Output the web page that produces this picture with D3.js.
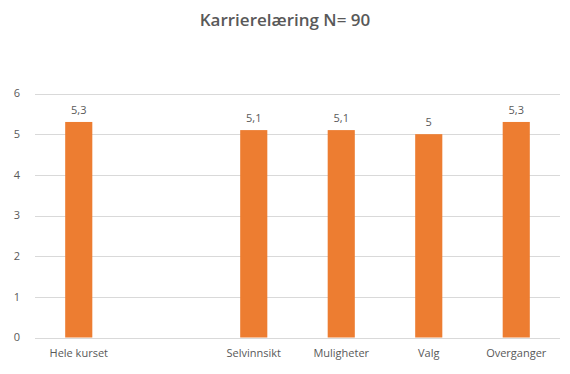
<!DOCTYPE html>
<html>
<head>
<meta charset="utf-8">
<script src="https://cdn.jsdelivr.net/npm/d3@7"></script>
<style>
  body { margin: 0; background: #fff; }
  text { font-family: "Open Sans", "Noto Sans", sans-serif; fill: #595959; }
</style>
</head>
<body>
<div class="chart-container"></div>
<script>
// Data
const categories = ["Hele kurset", "", "Selvinnsikt", "Muligheter", "Valg", "Overganger"];
const values = [5.3, null, 5.1, 5.1, 5.0, 5.3];
const yTicks = [0, 1, 2, 3, 4, 5, 6];

const width = 570, height = 374;
const margin = { top: 93.5, bottom: 36.5, left: 35, right: 10 };

const svg = d3.select(".chart-container").append("svg")
  .attr("width", width).attr("height", height);

// Scales
const x = d3.scaleBand()
  .domain(d3.range(categories.length))
  .range([margin.left, width - margin.right])
  .padding(0);
const y = d3.scaleLinear()
  .domain([0, 6])
  .range([height - margin.bottom, margin.top]);

const barWidth = x.bandwidth() * 0.31;
const fmt = v => String(v).replace(".", ",");

// Title
svg.append("text")
  .attr("x", width / 2)
  .attr("y", 26)
  .attr("text-anchor", "middle")
  .style("font-size", "17px")
  .style("font-weight", "600")
  .text("Karrierelæring N= 90");

// Gridlines
svg.append("g")
  .selectAll("line")
  .data(yTicks)
  .enter().append("line")
    .attr("x1", margin.left)
    .attr("x2", width - margin.right)
    .attr("y1", d => Math.round(y(d)) + 0.5)
    .attr("y2", d => Math.round(y(d)) + 0.5)
    .attr("stroke", "#d9d9d9");

// Y-axis text
svg.append("g")
  .selectAll("text")
  .data(yTicks)
  .enter().append("text")
    .attr("x", 20)
    .attr("y", d => y(d))
    .attr("dy", "0.35em")
    .attr("text-anchor", "end")
    .style("font-size", "11px")
    .text(d => d);

// Bars
const data = values.map((v, i) => ({ i: i, v: v })).filter(d => d.v !== null);
svg.append("g")
  .selectAll("rect")
  .data(data)
  .enter().append("rect")
    .attr("x", d => x(d.i) + (x.bandwidth() - barWidth) / 2)
    .attr("width", barWidth)
    .attr("y", d => y(d.v))
    .attr("height", d => y(0) - y(d.v))
    .attr("fill", "#ED7D31");

// Bar value text
svg.append("g")
  .selectAll("text")
  .data(data)
  .enter().append("text")
    .attr("x", d => x(d.i) + x.bandwidth() / 2)
    .attr("y", d => y(d.v) - 8)
    .attr("text-anchor", "middle")
    .style("font-size", "11px")
    .text(d => fmt(d.v));

// X-axis text
svg.append("g")
  .selectAll("text")
  .data(categories)
  .enter().append("text")
    .attr("x", (d, i) => x(i) + x.bandwidth() / 2)
    .attr("y", y(0) + 19)
    .attr("text-anchor", "middle")
    .style("font-size", "11px")
    .text(d => d);
</script>
</body>
</html>
